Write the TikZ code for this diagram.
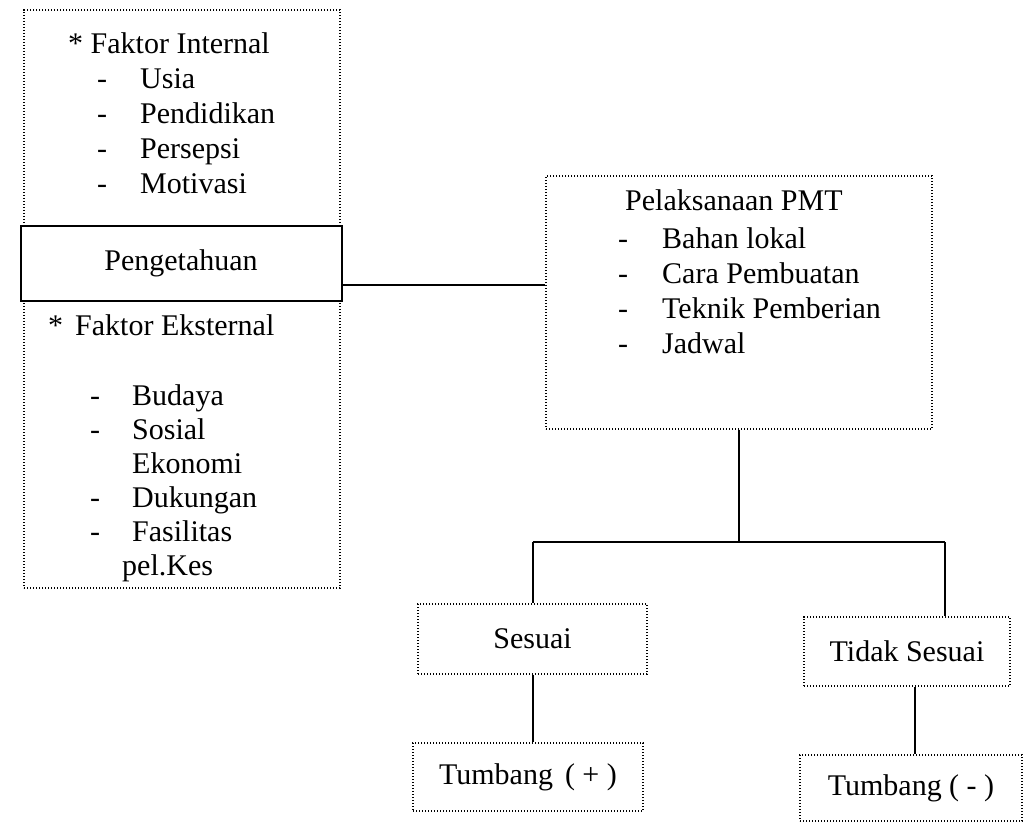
\documentclass[tikz,border=0pt]{standalone}
\usepackage{fontspec}
\setmainfont{Liberation Serif}
\usetikzlibrary{positioning}

\begin{document}
\begin{tikzpicture}[x=1pt, y=-1pt,
  font=\fontsize{30}{35}\selectfont,
  titik/.style={draw, dash pattern=on 1.2pt off 1.8pt, line width=1.2pt, inner sep=0pt},
  garis/.style={line width=2pt},
  butir/.style={anchor=base west, inner sep=0pt}]
\useasboundingbox (0,0) rectangle (1026,825);

% kotak faktor kiri
\node[titik, minimum width=316pt, minimum height=578pt] (faktor) at (182,299) {};
\node[butir] (internal) at (68,53) {* Faktor Internal};
\foreach \teks [count=\i] in {Usia,Pendidikan,Persepsi,Motivasi}
  \node[butir] (int\i) at (97,53+35*\i) {\makebox[43pt][l]{-}\teks};
\node[draw, fill=white, garis, minimum width=321pt, minimum height=75pt] (tahu) at (181,263.5) {Pengetahuan};
\node[butir] (eksternal) at (48,335) {*\hspace{12pt}Faktor Eksternal};
\node[butir] (eks1) at (90,405) {\makebox[42pt][l]{-}Budaya};
\node[butir] (eks2) at (90,439) {\makebox[42pt][l]{-}Sosial};
\node[butir] (eks2b) at (132,473) {Ekonomi};
\node[butir] (eks3) at (90,507) {\makebox[42pt][l]{-}Dukungan};
\node[butir] (eks4) at (90,541) {\makebox[42pt][l]{-}Fasilitas};
\node[butir] (eks4b) at (122,575) {pel.Kes};

% kotak PMT
\node[titik, minimum width=386pt, minimum height=253pt] (pmt) at (739,302.5) {};
\node[butir] (judul) at (625,210) {Pelaksanaan PMT};
\foreach \teks [count=\i] in {Bahan lokal,Cara Pembuatan,Teknik Pemberian,Jadwal}
  \node[butir] (pmt\i) at (618,213+35*\i) {\makebox[44pt][l]{-}\teks};
\draw[garis] ([yshift=-21pt]tahu.east) -- ([yshift=-21pt]tahu.east -| pmt.west);

% hasil
\node[titik, minimum width=229pt, minimum height=70pt] (sesuai) at (532.5,639) {Sesuai};
\node[titik, minimum width=206pt, minimum height=69pt] (tidak) at (907,651.5) {Tidak Sesuai};
\node[titik, minimum width=230pt, minimum height=68pt] (plus) at (528,777) {Tumbang\hspace{12pt}( + )};
\node[titik, minimum width=222pt, minimum height=66pt] (minus) at (911,788) {Tumbang ( - )};

\coordinate (batang) at (739,542);
\coordinate (kiri) at (532.5,542);
\coordinate (kanan) at (945,542);
\draw[garis] (pmt.south) -- (batang);
\draw[garis] (kiri) -- (kanan);
\draw[garis] (kiri) -- (kiri |- sesuai.north);
\draw[garis] (kanan) -- (kanan |- tidak.north);
\draw[garis] (sesuai.south) -- (sesuai.south |- plus.north);
\draw[garis] ([xshift=8pt]tidak.south) -- ([xshift=8pt]tidak.south |- minus.north);
\end{tikzpicture}
\end{document}
